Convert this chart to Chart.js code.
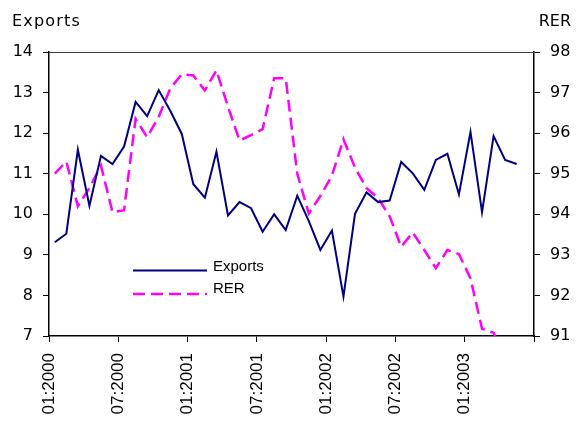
<!DOCTYPE html>
<html>
<head>
<meta charset="utf-8">
<script src="https://cdn.jsdelivr.net/npm/chart.js@4/dist/chart.umd.min.js"></script>
<style>
  html, body { margin: 0; padding: 0; background: #fff; }
  #wrap { width: 576px; height: 421px; position: relative; }
</style>
</head>
<body>
<div id="wrap"><canvas id="c"></canvas></div>
<script>
// ---- data ----
const months = [
  '01:2000','02:2000','03:2000','04:2000','05:2000','06:2000',
  '07:2000','08:2000','09:2000','10:2000','11:2000','12:2000',
  '01:2001','02:2001','03:2001','04:2001','05:2001','06:2001',
  '07:2001','08:2001','09:2001','10:2001','11:2001','12:2001',
  '01:2002','02:2002','03:2002','04:2002','05:2002','06:2002',
  '07:2002','08:2002','09:2002','10:2002','11:2002','12:2002',
  '01:2003','02:2003','03:2003','04:2003','05:2003','06:2003'
];
const exportsVals = [
  9.31, 9.52, 11.59, 10.21, 11.44, 11.24, 11.67, 12.77, 12.42, 13.06,
  12.55, 11.98, 10.74, 10.41, 11.54, 9.97, 10.30, 10.15, 9.57, 10.00,
  9.61, 10.46, 9.83, 9.12, 9.60, 7.97, 10.01, 10.54, 10.30, 10.34,
  11.29, 11.01, 10.60, 11.34, 11.49, 10.49, 12.03, 10.05, 11.93, 11.34,
  11.24
];
const rerVals = [
  95.00, 95.30, 94.20, 94.65, 95.20, 94.05, 94.10, 96.35, 95.90, 96.40,
  97.10, 97.45, 97.42, 97.05, 97.55, 96.65, 95.82, 95.95, 96.10, 97.35,
  97.35, 95.00, 94.02, 94.45, 94.95, 95.85, 95.15, 94.64, 94.40, 93.95,
  93.20, 93.55, 93.12, 92.67, 93.12, 93.02, 92.42, 91.18, 91.08, 90.50
];
const leftTicks = { min: 7, max: 14, step: 1 };
const rightTicks = { min: 91, max: 98, step: 1 };
const labelEvery = 6;

const NAVY = '#000080';
const MAGENTA = '#FF00FF';

const toPts = vals => vals.map((v, i) => ({ x: i + 0.5, y: v }));

const extrasPlugin = {
  id: 'extras',
  afterDraw(chart) {
    const ctx = chart.ctx;
    const a = chart.chartArea;
    ctx.save();
    // top border
    ctx.strokeStyle = '#404040';
    ctx.lineWidth = 1;
    ctx.beginPath();
    ctx.moveTo(a.left, a.top + 0.5);
    ctx.lineTo(a.right, a.top + 0.5);
    ctx.stroke();
    // axis titles
    ctx.fillStyle = '#000';
    ctx.font = '16px "DejaVu Sans"';
    ctx.textBaseline = 'alphabetic';
    ctx.textAlign = 'left';
    try { ctx.letterSpacing = '1.2px'; } catch (e) {}
    ctx.fillText('Exports', 12, 26);
    try { ctx.letterSpacing = '0px'; } catch (e) {}
    ctx.textAlign = 'right';
    ctx.fillText('RER', 571, 26);
    // legend
    const ds = chart.data.datasets;
    const lx0 = 133, lx1 = 207, tx = 213;
    const rows = [{ y: 270.5, ty: 266.5 }, { y: 294, ty: 288.5 }];
    ds.forEach((d, k) => {
      ctx.strokeStyle = d.borderColor;
      ctx.lineWidth = d.borderWidth;
      ctx.setLineDash(d.borderDash || []);
      ctx.beginPath();
      ctx.moveTo(lx0, rows[k].y);
      ctx.lineTo(lx1, rows[k].y);
      ctx.stroke();
      ctx.setLineDash([]);
      ctx.fillStyle = '#000';
      ctx.font = '15px "Liberation Sans"';
      ctx.textAlign = 'left';
      ctx.textBaseline = 'middle';
      ctx.fillText(d.label, tx, rows[k].ty);
    });
    ctx.restore();
  }
};

new Chart(document.getElementById('c'), {
  type: 'line',
  data: {
    datasets: [
      {
        label: 'Exports',
        data: toPts(exportsVals),
        borderColor: NAVY,
        backgroundColor: NAVY,
        borderWidth: 2,
        pointRadius: 0,
        tension: 0,
        yAxisID: 'y'
      },
      {
        label: 'RER',
        data: toPts(rerVals),
        borderColor: MAGENTA,
        backgroundColor: MAGENTA,
        borderWidth: 2.5,
        borderDash: [12, 6],
        pointRadius: 0,
        tension: 0,
        yAxisID: 'y1'
      }
    ]
  },
  options: {
    responsive: true,
    maintainAspectRatio: false,
    animation: false,
    layout: { padding: { top: 52, left: 0, right: 0, bottom: 0 } },
    plugins: { legend: { display: false }, tooltip: { enabled: false } },
    scales: {
      x: {
        type: 'linear',
        min: 0,
        max: months.length,
        afterFit: s => { s.height = 85; },
        border: { display: true, color: '#000', width: 1.5 },
        grid: { display: true, drawOnChartArea: false, drawTicks: true, tickLength: 6, color: '#000' },
        ticks: {
          stepSize: labelEvery,
          autoSkip: false,
          maxRotation: 90,
          minRotation: 90,
          padding: 11,
          color: '#000',
          font: { family: '"Liberation Sans"', size: 17 },
          callback: v => (months[v] !== undefined ? months[v] : '')
        }
      },
      y: {
        position: 'left',
        min: leftTicks.min,
        max: leftTicks.max,
        afterFit: s => { s.width = 49; },
        border: { display: true, color: '#000', width: 1.5 },
        grid: { display: true, drawOnChartArea: false, tickLength: 6, color: '#000' },
        ticks: {
          stepSize: leftTicks.step,
          padding: 10,
          color: '#000',
          font: { family: '"DejaVu Sans"', size: 16 }
        }
      },
      y1: {
        position: 'right',
        min: rightTicks.min,
        max: rightTicks.max,
        afterFit: s => { s.width = 42; },
        border: { display: true, color: '#000', width: 1.5 },
        grid: { display: true, drawOnChartArea: false, tickLength: 6, color: '#000' },
        ticks: {
          stepSize: rightTicks.step,
          padding: 10,
          color: '#000',
          font: { family: '"DejaVu Sans"', size: 16 }
        }
      }
    }
  },
  plugins: [extrasPlugin]
});
</script>
</body>
</html>
